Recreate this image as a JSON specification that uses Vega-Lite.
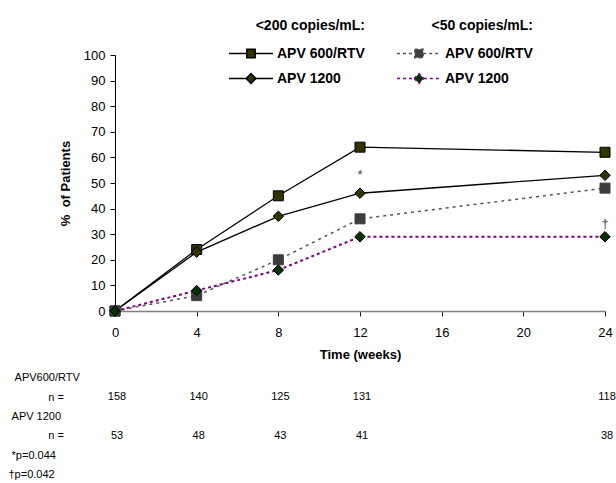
{
  "$schema": "https://vega.github.io/schema/vega-lite/v6.json",
  "padding": {"left": 8, "top": 19, "right": 0, "bottom": 0},
  "bounds": "flush",
  "spacing": 57,
  "config": {
    "font": "Liberation Sans",
    "view": {"stroke": null},
    "axis": {"labelColor": "black", "titleColor": "black", "labelFont": "Liberation Sans", "titleFont": "Liberation Sans", "grid": false},
    "legend": {"labelColor": "black", "titleColor": "black", "labelFont": "Liberation Sans", "titleFont": "Liberation Sans"}
  },
  "datasets": {
    "main": [
      {"week": 0, "pct": 0, "thr": "<200", "arm": "APV 600/RTV"},
      {"week": 4, "pct": 24, "thr": "<200", "arm": "APV 600/RTV"},
      {"week": 8, "pct": 45, "thr": "<200", "arm": "APV 600/RTV"},
      {"week": 12, "pct": 64, "thr": "<200", "arm": "APV 600/RTV"},
      {"week": 24, "pct": 62, "thr": "<200", "arm": "APV 600/RTV"},
      {"week": 0, "pct": 0, "thr": "<200", "arm": "APV 1200"},
      {"week": 4, "pct": 23, "thr": "<200", "arm": "APV 1200"},
      {"week": 8, "pct": 37, "thr": "<200", "arm": "APV 1200"},
      {"week": 12, "pct": 46, "thr": "<200", "arm": "APV 1200", "note": "*"},
      {"week": 24, "pct": 53, "thr": "<200", "arm": "APV 1200"},
      {"week": 0, "pct": 0, "thr": "<50", "arm": "APV 600/RTV"},
      {"week": 4, "pct": 6, "thr": "<50", "arm": "APV 600/RTV"},
      {"week": 8, "pct": 20, "thr": "<50", "arm": "APV 600/RTV"},
      {"week": 12, "pct": 36, "thr": "<50", "arm": "APV 600/RTV"},
      {"week": 24, "pct": 48, "thr": "<50", "arm": "APV 600/RTV"},
      {"week": 0, "pct": 0, "thr": "<50", "arm": "APV 1200"},
      {"week": 4, "pct": 8, "thr": "<50", "arm": "APV 1200"},
      {"week": 8, "pct": 16, "thr": "<50", "arm": "APV 1200"},
      {"week": 12, "pct": 29, "thr": "<50", "arm": "APV 1200"},
      {"week": 24, "pct": 29, "thr": "<50", "arm": "APV 1200", "note": "†"}
    ],
    "n": [
      {"week": 0, "row": "n1", "n": 158},
      {"week": 4, "row": "n1", "n": 140},
      {"week": 8, "row": "n1", "n": 125},
      {"week": 12, "row": "n1", "n": 131},
      {"week": 24, "row": "n1", "n": 118},
      {"week": 0, "row": "n2", "n": 53},
      {"week": 4, "row": "n2", "n": 48},
      {"week": 8, "row": "n2", "n": 43},
      {"week": 12, "row": "n2", "n": 41},
      {"week": 24, "row": "n2", "n": 38}
    ]
  },
  "vconcat": [
    {
      "width": 490,
      "height": 256,
      "data": {"name": "main"},
      "resolve": {
        "scale": {"shape": "independent", "fill": "independent", "stroke": "independent"},
        "legend": {"shape": "independent", "fill": "independent", "stroke": "independent"}
      },
      "encoding": {
        "x": {
          "field": "week", "type": "quantitative",
          "scale": {"domain": [0, 24], "nice": false, "zero": false},
          "axis": {"values": [0, 4, 8, 12, 16, 20, 24], "title": "Time (weeks)", "titleFontSize": 13, "titleFontWeight": "bold", "titlePadding": 9, "labelFontSize": 13, "labelPadding": 10, "tickSize": 5, "domainColor": "#808080", "domainWidth": 1.5, "tickColor": "#222222", "labelFlush": false}
        },
        "y": {
          "field": "pct", "type": "quantitative",
          "scale": {"domain": [0, 100], "nice": false},
          "axis": {"values": [0, 10, 20, 30, 40, 50, 60, 70, 80, 90, 100], "title": "%\u00a0\u00a0of Patients", "titleFontSize": 13, "titleFontWeight": "bold", "titlePadding": 11, "labelFontSize": 13, "labelPadding": 5, "tickSize": 5, "domainColor": "black", "tickColor": "black"}
        }
      },
      "layer": [
        {"transform": [{"filter": "datum.thr == '<50' && datum.arm == 'APV 600/RTV'"}], "mark": {"type": "line", "color": "#555555", "strokeWidth": 1.5, "strokeDash": [3, 4]}},
        {"transform": [{"filter": "datum.thr == '<50' && datum.arm == 'APV 1200'"}], "mark": {"type": "line", "color": "#800080", "strokeWidth": 2, "strokeDash": [3, 3]}},
        {"transform": [{"filter": "datum.thr == '<200' && datum.arm == 'APV 600/RTV'"}], "mark": {"type": "line", "color": "black", "strokeWidth": 1.3}},
        {"transform": [{"filter": "datum.thr == '<200' && datum.arm == 'APV 1200'"}], "mark": {"type": "line", "color": "black", "strokeWidth": 1.3}},
        {"transform": [{"filter": "datum.thr == '<200' && datum.arm == 'APV 600/RTV'"}], "mark": {"type": "point", "shape": "square", "filled": true, "fill": "#333300", "stroke": "black", "strokeWidth": 1, "size": 100, "opacity": 1}},
        {"transform": [{"filter": "datum.thr == '<200' && datum.arm == 'APV 1200'"}], "mark": {"type": "point", "shape": "diamond", "filled": true, "fill": "#333300", "stroke": "black", "strokeWidth": 1, "size": 110, "opacity": 1}},
        {"transform": [{"filter": "datum.thr == '<50' && datum.arm == 'APV 600/RTV'"}], "mark": {"type": "point", "shape": "square", "filled": true, "fill": "#3c3c3c", "stroke": "#3c3c3c", "strokeWidth": 1, "size": 100, "opacity": 1}},
        {"transform": [{"filter": "datum.thr == '<50' && datum.arm == 'APV 1200'"}], "mark": {"type": "point", "shape": "diamond", "filled": true, "fill": "#003300", "stroke": "black", "strokeWidth": 1, "size": 110, "opacity": 1}},
        {"transform": [{"filter": "datum.note == '*'"}], "mark": {"type": "text", "dy": -18, "fontSize": 13, "color": "#444444"}, "encoding": {"text": {"field": "note"}}},
        {"transform": [{"filter": "datum.note == '†'"}], "mark": {"type": "text", "dy": -13, "fontSize": 13, "color": "#444444"}, "encoding": {"text": {"field": "note"}}},
        {
          "transform": [{"filter": "false"}],
          "mark": {"type": "point", "filled": true, "fill": "#333300", "stroke": "black", "strokeWidth": 1.5, "opacity": 1},
          "encoding": {
            "shape": {
              "field": "arm", "type": "nominal",
              "scale": {"domain": ["APV 600/RTV", "APV 1200"], "range": ["M-1,0H-0.19M0.19,0H1M-0.19,-0.19H0.19V0.19H-0.19Z", "M-1,0H-0.22M0.22,0H1M-0.22,0L0,-0.22L0.22,0L0,0.22Z"]},
              "legend": {"title": "<200 copies/mL:", "orient": "none", "legendX": 113, "legendY": -36, "titleFontSize": 14, "titleFontWeight": "bold", "titleAnchor": "end", "titleAlign": "right", "titlePadding": 8, "labelFontSize": 14, "labelFontWeight": "bold", "labelOffset": 3, "symbolSize": 1936, "symbolStrokeWidth": 1.5, "clipHeight": 25, "rowPadding": 0, "padding": 0, "labelLimit": 200}
            }
          }
        },
        {
          "transform": [{"filter": "false"}],
          "mark": {"type": "point", "filled": true, "strokeWidth": 1.5, "strokeDash": [3, 3], "opacity": 1},
          "encoding": {
            "shape": {
              "field": "arm", "type": "nominal",
              "scale": {"domain": ["APV 600/RTV", "APV 1200"], "range": ["M-1,0H-0.19M0.19,0H1M-0.19,-0.19H0.19V0.19H-0.19Z", "M-1,0H-0.22M0.22,0H1M-0.22,0L0,-0.22L0.22,0L0,0.22Z"]},
              "legend": {"title": "<50 copies/mL:", "orient": "none", "legendX": 281, "legendY": -36, "titleFontSize": 14, "titleFontWeight": "bold", "titleAnchor": "end", "titleAlign": "right", "titlePadding": 8, "labelFontSize": 14, "labelFontWeight": "bold", "labelOffset": 3, "symbolSize": 1936, "symbolStrokeWidth": 1.5, "symbolDash": [3, 3], "clipHeight": 25, "rowPadding": 0, "padding": 0, "labelLimit": 200}
            },
            "fill": {
              "field": "arm", "type": "nominal",
              "scale": {"domain": ["APV 600/RTV", "APV 1200"], "range": ["#3c3c3c", "#003300"]},
              "legend": {"title": "<50 copies/mL:", "orient": "none", "legendX": 281, "legendY": -36, "titleFontSize": 14, "titleFontWeight": "bold", "titleAnchor": "end", "titleAlign": "right", "titlePadding": 8, "labelFontSize": 14, "labelFontWeight": "bold", "labelOffset": 3, "symbolSize": 1936, "symbolStrokeWidth": 1.5, "symbolDash": [3, 3], "clipHeight": 25, "rowPadding": 0, "padding": 0, "labelLimit": 200}
            },
            "stroke": {
              "field": "arm", "type": "nominal",
              "scale": {"domain": ["APV 600/RTV", "APV 1200"], "range": ["#555555", "#800080"]},
              "legend": {"title": "<50 copies/mL:", "orient": "none", "legendX": 281, "legendY": -36, "titleFontSize": 14, "titleFontWeight": "bold", "titleAnchor": "end", "titleAlign": "right", "titlePadding": 8, "labelFontSize": 14, "labelFontWeight": "bold", "labelOffset": 3, "symbolSize": 1936, "symbolStrokeWidth": 1.5, "symbolDash": [3, 3], "clipHeight": 25, "rowPadding": 0, "padding": 0, "labelLimit": 200}
            }
          }
        }
      ]
    },
    {
      "width": 490,
      "height": 116,
      "data": {"name": "n"},
      "mark": {"type": "text", "fontSize": 11, "dx": 2, "color": "black"},
      "encoding": {
        "x": {"field": "week", "type": "quantitative", "scale": {"domain": [0, 24], "nice": false, "zero": false}, "axis": null},
        "y": {
          "field": "row", "type": "ordinal",
          "scale": {"type": "point", "domain": ["h1", "n1", "h2", "n2", "p1", "p2"], "padding": 0.5},
          "axis": {"title": null, "domain": false, "ticks": false, "tickSize": 0, "labelAlign": "left", "labelPadding": 107, "labelFontSize": 11, "labelLimit": 200,
            "labelExpr": "datum.value == 'h1' ? '\u200b\u00a0\u00a0APV600/RTV' : datum.value == 'h2' ? '\u200b\u00a0APV 1200' : (datum.value == 'n1' || datum.value == 'n2') ? '\u200b\u00a0\u00a0\u00a0\u00a0\u00a0\u00a0\u00a0\u00a0\u00a0\u00a0\u00a0\u00a0\u00a0n =' : datum.value == 'p1' ? '\u200b\u00a0*p=0.044' : '†p=0.042'"}
        },
        "text": {"field": "n", "type": "quantitative"}
      }
    }
  ]
}
